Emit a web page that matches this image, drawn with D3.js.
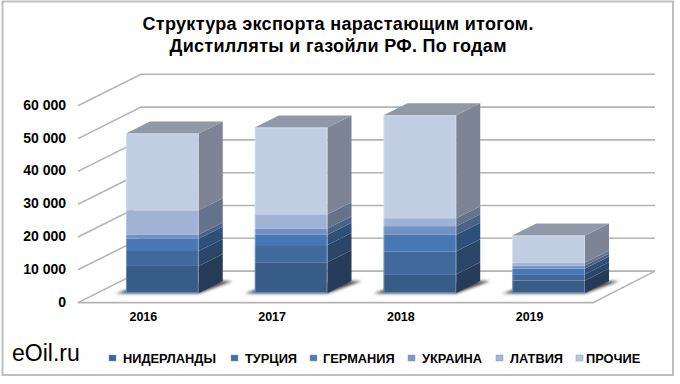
<!DOCTYPE html>
<html>
<head>
<meta charset="utf-8">
<style>
  html, body { margin: 0; padding: 0; background: #fff; }
  svg { display: block; }
  text { font-family: "Liberation Sans", Arial, sans-serif; fill: #000; }
  .domain { display: none; }
</style>
<script src="https://d3js.org/d3.v7.min.js"></script>
</head>
<body>
<svg width="680" height="384"></svg>
<script>
// values
const years = ["2016", "2017", "2018", "2019"];
const seriesNames = ["НИДЕРЛАНДЫ", "ТУРЦИЯ", "ГЕРМАНИЯ", "УКРАИНА", "ЛАТВИЯ", "ПРОЧИЕ"];
const niderlandy = [8280, 9390, 5760, 3840];
const turciya = [4550, 5250, 6970, 1920];
const germaniya = [3740, 3130, 5050, 1720];
const ukraina = [1310, 1920, 2630, 910];
const latviya = [7370, 4340, 2420, 910];
const prochie = [23400, 26460, 31410, 8280];
const allSeries = [niderlandy, turciya, germaniya, ukraina, latviya, prochie];
const yTicks = [0, 10000, 20000, 30000, 40000, 50000, 60000];

const frontColors = ["#375b88", "#406a9e", "#4778b4", "#7391c5", "#a0b3d5", "#c1cde2"];
const sideColors = ["#253a59", "#294667", "#2f5078", "#4a6288", "#647389", "#7c8495"];
const legendColors = ["#3f6594", "#456fa3", "#4d7db5", "#7b98c6", "#a5b6d4", "#bcc7dc"];
const legendMarkX = [109, 231, 310, 408, 496, 576];
const legendTextX = [123, 245, 323, 422, 510, 586];

const rows = years.map((y, i) => {
  const r = { year: y };
  seriesNames.forEach((s, j) => { r[s] = allSeries[j][i]; });
  return r;
});
const stacked = d3.stack().keys(seriesNames)(rows);

const svg = d3.select("svg");
const defs = svg.append("defs");
defs.append("filter").attr("id", "soft").attr("x", "-20%").attr("y", "-50%").attr("width", "140%").attr("height", "200%")
  .append("feGaussianBlur").attr("stdDeviation", 1.6);
defs.append("filter").attr("id", "aa").append("feGaussianBlur").attr("stdDeviation", 0.35);

// frame
svg.append("rect").attr("x", 2.5).attr("y", 1.5).attr("width", 670.5).attr("height", 373.5)
  .attr("fill", "#fff").attr("stroke", "#bfbfbf").attr("stroke-width", 2);

// plot geometry
const floorLeft = 78, floorRight = 593;
const wallDx = 63, wallDy = -31.5;   // front plane -> back wall
const barDx = 20, barDy = -9.5;      // front plane -> front of the bars
const sideDx = 24, sideDy = -12;     // bar depth

const x = d3.scaleBand().domain(years).range([floorLeft, floorRight]).paddingInner(0.435).paddingOuter(0.2175);
const y = d3.scaleLinear().domain([0, 60000]).range([302.6, 105.8]);

// gridlines
const grid = svg.append("g").attr("fill", "none").attr("stroke", "#b4b4b4").attr("stroke-width", 1.6);
yTicks.forEach(t => {
  const p = d3.path();
  p.moveTo(floorLeft, y(t));
  p.lineTo(floorLeft + wallDx, y(t) + wallDy);
  p.lineTo(floorRight + wallDx - 1, y(t) + wallDy);
  if (t === 0) {
    p.lineTo(floorRight, y(t));
    p.lineTo(floorLeft, y(t));
  }
  grid.append("path").attr("d", p.toString());
});

// axes
const fmt = d => d3.format(",")(d).replace(/,/g, " ");
const yAxis = d3.axisLeft(y).tickValues(yTicks).tickFormat(fmt).tickSize(0).tickPadding(0);
svg.append("g").attr("transform", "translate(66,-1)").call(yAxis)
  .selectAll("text").attr("font-family", "Liberation Sans").attr("font-size", 14).attr("font-weight", "bold");

const xAxis = d3.axisBottom(x).tickSize(0).tickPadding(0);
svg.append("g").attr("transform", "translate(1,312)").call(xAxis)
  .selectAll("text").attr("font-family", "Liberation Sans").attr("font-size", 12.5).attr("font-weight", "bold");

// floor shadows
const poly = pts => pts.map(p => p.join(",")).join(" ");
const bars = svg.append("g");
years.forEach(yr => {
  const x0 = x(yr) + barDx, x1 = x0 + x.bandwidth(), b = y(0) + barDy;
  bars.append("polygon")
    .attr("points", poly([[x0 - 10, b + 0.5], [x1, b + 0.5], [x1 + sideDx + 10, b + sideDy], [x1 + sideDx, b + sideDy], [x0 + 6, b - 5]]))
    .attr("fill", "#4a4a4a").attr("filter", "url(#soft)");
});

// stacked bars
stacked.forEach((layer, j) => {
  layer.forEach(d => {
    const yr = d.data.year;
    const x0 = x(yr) + barDx, x1 = x0 + x.bandwidth();
    const yb = y(d[0]) + barDy, yt = y(d[1]) + barDy;
    bars.append("rect").attr("x", x0).attr("y", yt).attr("width", x1 - x0).attr("height", yb - yt)
      .attr("fill", frontColors[j]);
    bars.append("polygon")
      .attr("points", poly([[x1, yb], [x1 + sideDx, yb + sideDy], [x1 + sideDx, yt + sideDy], [x1, yt]]))
      .attr("fill", sideColors[j]);
  });
});

// top faces and light bevel round each bar
years.forEach((yr, i) => {
  const x0 = x(yr) + barDx, x1 = x0 + x.bandwidth();
  const total = d3.sum(allSeries, s => s[i]);
  const yt = y(total) + barDy, yb = y(0) + barDy;
  bars.append("polygon")
    .attr("points", poly([[x0, yt], [x1, yt], [x1 + sideDx, yt + sideDy], [x0 + sideDx, yt + sideDy]]))
    .attr("fill", "#8f99aa");
  bars.append("rect").attr("x", x0 + 0.5).attr("y", yt + 0.5).attr("width", x1 - x0 - 1).attr("height", yb - yt - 1)
    .attr("fill", "none").attr("stroke", "#fff").attr("stroke-opacity", 0.28);
});
bars.attr("filter", "url(#aa)");

// title
const title = ["Структура экспорта нарастающим итогом.", "Дистилляты и газойли РФ. По годам"];
const titleWidth = [391, 337];
title.forEach((t, i) => {
  svg.append("text").attr("x", 338).attr("y", 30 + i * 22).attr("text-anchor", "middle")
    .attr("font-size", 18).attr("font-weight", "bold")
    .attr("textLength", titleWidth[i]).attr("lengthAdjust", "spacing").text(t);
});

// legend
seriesNames.forEach((s, j) => {
  svg.append("rect").attr("x", legendMarkX[j]).attr("y", 355).attr("width", 7).attr("height", 6)
    .attr("fill", legendColors[j]).attr("stroke", "#8c9ab0").attr("stroke-width", 0.5);
  svg.append("text").attr("x", legendTextX[j]).attr("y", 363)
    .attr("font-size", 12.8).attr("font-weight", "bold").text(s);
});

svg.append("text").attr("x", 12).attr("y", 361).attr("font-size", 23).text("eOil.ru");
</script>
</body>
</html>
